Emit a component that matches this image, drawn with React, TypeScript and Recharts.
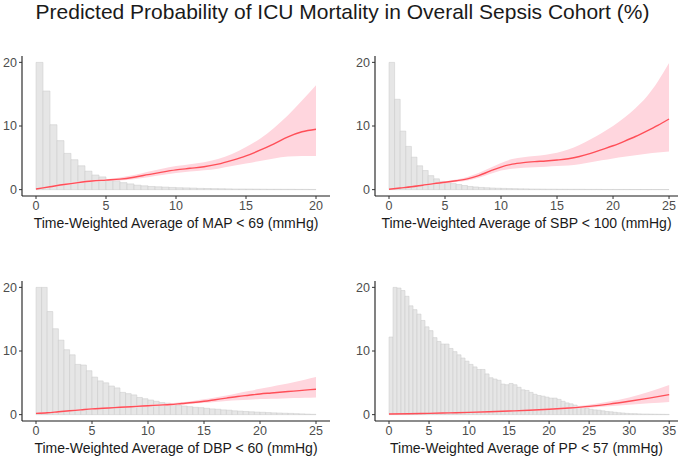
import React from 'react';
import {
  ComposedChart,
  Area,
  Line,
  XAxis,
  YAxis,
  ReferenceArea,
} from 'recharts';

// Histogram heights (scaled so the tallest bins are clipped at 20), bin width 0.5
const mapBins = [20, 15.5, 10.2, 7.7, 5.7, 4.7, 3.75, 2.9, 2.3, 2.0, 1.6, 1.4, 1.1, 0.9, 0.7, 0.6, 0.5, 0.45, 0.4, 0.35,
  0.3, 0.27, 0.24, 0.2, 0.18, 0.16, 0.14, 0.12, 0.1, 0.1, 0.09, 0.08, 0.07, 0.06, 0.06, 0.05, 0.05, 0.04, 0.04, 0.03];
const sbpBins = [20, 14.2, 9.2, 6.8, 5.1, 3.75, 3.0, 2.2, 1.7, 1.3, 1.1, 0.95, 0.8, 0.65, 0.5, 0.42, 0.35, 0.3, 0.25, 0.22,
  0.2, 0.17, 0.15, 0.13, 0.12, 0.1, 0.09, 0.08, 0.07, 0.07, 0.06, 0.06, 0.05, 0.05, 0.05, 0.04, 0.04, 0.04, 0.03, 0.03,
  0.03, 0.03, 0.03, 0.02, 0.02, 0.02, 0.02, 0.02, 0.02, 0.02];
const dbpBins = [20, 20, 16.2, 13.5, 11.7, 10.2, 9.4, 7.9, 7.8, 6.9, 5.9, 5.3, 5.0, 4.5, 4.2, 3.5, 3.3, 3.1, 2.7, 2.5,
  2.3, 2.1, 1.9, 1.8, 1.6, 1.5, 1.35, 1.25, 1.15, 1.1, 1.0, 0.9, 0.85, 0.75, 0.7, 0.6, 0.55, 0.5, 0.45, 0.4,
  0.37, 0.32, 0.28, 0.25, 0.22, 0.2, 0.15, 0.12, 0.08, 0.05];
const ppBins = [12.2, 20, 19.9, 19.5, 18.6, 17.1, 16.5, 15.8, 14.8, 13.8, 13.2, 12.1, 11.5, 11.1, 11.1, 10.4, 9.9, 9.4, 8.9, 8.4,
  7.9, 7.5, 7.1, 7.1, 6.4, 5.8, 5.6, 5.4, 4.8, 4.7, 4.9, 4.7, 4.3, 3.9, 3.8, 3.5, 3.2, 3.0, 2.9, 2.75,
  2.6, 2.6, 2.4, 2.1, 1.85, 1.7, 1.5, 1.3, 1.15, 1.0, 0.85, 0.75, 0.7, 0.6, 0.5, 0.45, 0.37, 0.3, 0.26, 0.2,
  0.16, 0.15, 0.12, 0.1, 0.1, 0.08, 0.07, 0.06, 0.05, 0.04];

// Predicted probability (%) with confidence band
const mapX = [0, 1, 2, 3, 4, 5, 6, 7, 8, 9, 10, 11, 12, 13, 14, 15, 16, 17, 18, 19, 20];
const mapFit = [0.1, 0.45, 0.8, 1.1, 1.35, 1.5, 1.65, 1.95, 2.35, 2.75, 3.1, 3.35, 3.6, 4.0, 4.6, 5.3, 6.2, 7.2, 8.3, 9.1, 9.5];
const mapLow = [0.05, 0.35, 0.65, 0.95, 1.2, 1.35, 1.45, 1.65, 1.95, 2.3, 2.6, 2.85, 3.05, 3.3, 3.7, 4.1, 4.5, 4.9, 5.2, 5.3, 5.3];
const mapHigh = [0.15, 0.55, 0.95, 1.25, 1.5, 1.65, 1.9, 2.3, 2.8, 3.3, 3.7, 4.0, 4.3, 4.8, 5.6, 6.7, 8.0, 9.7, 11.7, 14.0, 16.4];

const sbpX = [0, 1, 2, 3, 4, 5, 6, 7, 8, 9, 10, 11, 12, 13, 14, 15, 16, 17, 18, 19, 20, 21, 22, 23, 24, 25];
const sbpFit = [0.05, 0.25, 0.45, 0.7, 0.95, 1.15, 1.4, 1.7, 2.2, 2.9, 3.55, 4.0, 4.25, 4.4, 4.5, 4.65, 4.85, 5.2, 5.7, 6.3,
  6.9, 7.6, 8.35, 9.2, 10.1, 11.1];
const sbpLow = [0.0, 0.2, 0.4, 0.6, 0.85, 1.0, 1.2, 1.45, 1.85, 2.45, 3.0, 3.3, 3.45, 3.5, 3.6, 3.7, 3.8, 4.0, 4.3, 4.6,
  4.9, 5.15, 5.4, 5.65, 5.85, 6.0];
const sbpHigh = [0.1, 0.3, 0.5, 0.8, 1.05, 1.3, 1.6, 2.0, 2.6, 3.4, 4.2, 4.8, 5.1, 5.3, 5.5, 5.8, 6.3, 7.0, 7.9, 8.9,
  10.0, 11.3, 12.8, 14.6, 17.0, 19.9];

const dbpX = sbpX;
const dbpFit = [0.2, 0.3, 0.45, 0.6, 0.75, 0.9, 1.0, 1.1, 1.2, 1.3, 1.4, 1.5, 1.6, 1.75, 1.9, 2.1, 2.35, 2.6, 2.85, 3.05,
  3.25, 3.4, 3.55, 3.7, 3.85, 4.0];
const dbpLow = [0.1, 0.2, 0.35, 0.5, 0.65, 0.8, 0.9, 1.0, 1.1, 1.18, 1.25, 1.35, 1.45, 1.55, 1.7, 1.85, 2.0, 2.15, 2.25, 2.35,
  2.45, 2.5, 2.55, 2.6, 2.65, 2.7];
const dbpHigh = [0.3, 0.4, 0.55, 0.7, 0.85, 1.0, 1.1, 1.2, 1.3, 1.42, 1.55, 1.65, 1.78, 1.95, 2.15, 2.4, 2.7, 3.0, 3.35, 3.7,
  4.05, 4.4, 4.75, 5.1, 5.5, 5.9];

const ppX = [0, 2.5, 5, 7.5, 10, 12.5, 15, 17.5, 20, 22.5, 25, 27.5, 30, 32.5, 35];
const ppFit = [0.1, 0.15, 0.2, 0.28, 0.36, 0.45, 0.56, 0.68, 0.85, 1.05, 1.3, 1.65, 2.1, 2.6, 3.15];
const ppLow = [0.05, 0.1, 0.15, 0.22, 0.3, 0.38, 0.48, 0.6, 0.74, 0.9, 1.08, 1.3, 1.55, 1.78, 2.0];
const ppHigh = [0.15, 0.2, 0.26, 0.34, 0.43, 0.53, 0.65, 0.78, 0.96, 1.2, 1.55, 2.05, 2.7, 3.6, 4.65];

const yTicks = [0, 10, 20];

const FONT = '"Liberation Sans", Arial, Helvetica, sans-serif';

interface PanelProps {
  bins: number[];
  binWidth: number;
  xs: number[];
  fit: number[];
  low: number[];
  high: number[];
  xDomain: [number, number];
  xTicks: number[];
  label: string;
  left: number;
  top: number;
  width: number;
  yAxisWidth: number;
  marginRight: number;
}

const Panel = ({ bins, binWidth, xs, fit, low, high, xDomain, xTicks, label, left, top, width, yAxisWidth, marginRight }: PanelProps) => {
  const rows = xs.map((x, i) => ({ x, fit: fit[i], band: [low[i], high[i]] }));
  const axisLine = { stroke: '#1a1a1a', strokeWidth: 1.1 };
  const tick = { fill: '#4d4d4d', fontSize: 12.5 };
  return (
    <div style={{ position: 'absolute', left, top }}>
      <ComposedChart
        width={width}
        height={240}
        data={rows}
        margin={{ top: 56, right: marginRight, left: 0, bottom: 4 }}
      >
        <XAxis
          dataKey="x"
          type="number"
          domain={xDomain}
          ticks={xTicks}
          allowDataOverflow
          height={40}
          tickSize={3}
          tickMargin={2}
          axisLine={axisLine}
          tickLine={{ stroke: '#333' }}
          tick={tick}
          label={{ value: label, position: 'insideBottom', offset: 8, fill: '#1a1a1a', fontSize: 14 }}
        />
        <YAxis
          type="number"
          domain={[-1, 21]}
          ticks={yTicks}
          allowDataOverflow
          width={yAxisWidth}
          tickSize={3}
          tickMargin={2}
          axisLine={axisLine}
          tickLine={{ stroke: '#333' }}
          tick={tick}
        />
        {bins.map((v, i) => (
          <ReferenceArea
            key={i}
            x1={i * binWidth}
            x2={(i + 1) * binWidth}
            y1={0}
            y2={v}
            fill="#e6e6e6"
            fillOpacity={1}
            stroke="#c9c9c9"
            strokeWidth={0.5}
            ifOverflow="visible"
          />
        ))}
        <Area
          dataKey="band"
          type="monotone"
          fill="#ffd6de"
          fillOpacity={1}
          stroke="none"
          isAnimationActive={false}
        />
        <Line
          dataKey="fit"
          type="monotone"
          stroke="#ff4f58"
          strokeWidth={1.4}
          dot={false}
          isAnimationActive={false}
        />
      </ComposedChart>
    </div>
  );
};

export default function App() {
  return (
    <div style={{ position: 'absolute', left: 0, top: 0, width: 685, height: 457, background: '#fff', fontFamily: FONT }}>
      <div
        style={{
          position: 'absolute',
          left: 0,
          top: 0,
          width: 685,
          textAlign: 'center',
          fontSize: 21,
          lineHeight: '24px',
          color: '#1a1a1a',
        }}
      >
        Predicted Probability of ICU Mortality in Overall Sepsis Cohort (%)
      </div>
      <Panel
        bins={mapBins}
        binWidth={0.5}
        xs={mapX}
        fit={mapFit}
        low={mapLow}
        high={mapHigh}
        xDomain={[-1, 21]}
        xTicks={[0, 5, 10, 15, 20]}
        label="Time-Weighted Average of MAP < 69 (mmHg)"
        left={0}
        top={0}
        width={342}
        yAxisWidth={22}
        marginRight={12}
      />
      <Panel
        bins={sbpBins}
        binWidth={0.5}
        xs={sbpX}
        fit={sbpFit}
        low={sbpLow}
        high={sbpHigh}
        xDomain={[-1.25, 25.8]}
        xTicks={[0, 5, 10, 15, 20, 25]}
        label="Time-Weighted Average of SBP < 100 (mmHg)"
        left={345}
        top={0}
        width={340}
        yAxisWidth={30}
        marginRight={7}
      />
      <Panel
        bins={dbpBins}
        binWidth={0.5}
        xs={dbpX}
        fit={dbpFit}
        low={dbpLow}
        high={dbpHigh}
        xDomain={[-1.25, 26.25]}
        xTicks={[0, 5, 10, 15, 20, 25]}
        label="Time-Weighted Average of DBP < 60 (mmHg)"
        left={0}
        top={225}
        width={342}
        yAxisWidth={22}
        marginRight={12}
      />
      <Panel
        bins={ppBins}
        binWidth={0.5}
        xs={ppX}
        fit={ppFit}
        low={ppLow}
        high={ppHigh}
        xDomain={[-1.75, 36.1]}
        xTicks={[0, 5, 10, 15, 20, 25, 30, 35]}
        label="Time-Weighted Average of PP < 57 (mmHg)"
        left={345}
        top={225}
        width={340}
        yAxisWidth={30}
        marginRight={7}
      />
    </div>
  );
}
